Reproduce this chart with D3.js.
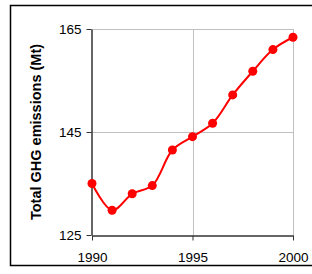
<!DOCTYPE html>
<html>
<head>
<meta charset="utf-8">
<script src="https://cdn.jsdelivr.net/npm/d3@7"></script>
<style>
body { margin: 0; background: #fff; }
svg { display: block; font-family: "Liberation Sans", Arial, sans-serif; }
</style>
</head>
<body>
<svg id="chart" width="312" height="274"></svg>
<script>
var years = [1990, 1991, 1992, 1993, 1994, 1995, 1996, 1997, 1998, 1999, 2000];
var emissions = [135.0, 129.8, 133.0, 134.6, 141.5, 144.1, 146.7, 152.2, 156.8, 161.0, 163.4];
var xTicks = [1990, 1995, 2000];
var yTicks = [125, 145, 165];

var svg = d3.select('#chart');

// outer frame
svg.append('rect')
    .attr('x', 10.5).attr('y', 5.5)
    .attr('width', 305).attr('height', 260)
    .attr('fill', 'none')
    .attr('stroke', '#000')
    .attr('stroke-width', 1.5);

var x = d3.scaleLinear().domain([1990, 2000]).range([92, 293]);
var y = d3.scaleLinear().domain([125, 165]).range([235, 29]);

var g = svg.append('g');

// gridlines
g.selectAll('line.vgrid').data(xTicks.slice(1)).enter().append('line')
    .attr('x1', function (d) { return Math.round(x(d)) + 0.5; })
    .attr('x2', function (d) { return Math.round(x(d)) + 0.5; })
    .attr('y1', y(165)).attr('y2', y(125))
    .attr('stroke', '#c0c0c0');
g.selectAll('line.hgrid').data(yTicks.slice(1)).enter().append('line')
    .attr('y1', function (d) { return Math.round(y(d)) + 0.5; })
    .attr('y2', function (d) { return Math.round(y(d)) + 0.5; })
    .attr('x1', x(1990)).attr('x2', x(2000))
    .attr('stroke', '#c0c0c0');

// axes
var xAxis = d3.axisBottom(x).tickValues(xTicks).tickFormat(d3.format('d')).tickSizeInner(5).tickSizeOuter(0).tickPadding(12);
var yAxis = d3.axisLeft(y).tickValues(yTicks).tickSizeInner(5).tickSizeOuter(0).tickPadding(5);

var gx = g.append('g').attr('transform', 'translate(0,' + (Math.round(y(125)) + 0.5) + ')').call(xAxis);
var gy = g.append('g').attr('transform', 'translate(' + (Math.round(x(1990)) - 0.5) + ',0)').call(yAxis);

[gx, gy].forEach(function (a) {
    a.select('.domain').attr('stroke', '#333').attr('stroke-width', 1.5);
    a.selectAll('.tick line').attr('stroke', '#333');
    a.selectAll('.tick text').attr('font-size', 13.5).attr('fill', '#000')
        .attr('font-family', '"Liberation Sans", Arial, sans-serif');
});

// y title
svg.append('text')
    .attr('transform', 'translate(41,' + (y(145)) + ') rotate(-90)')
    .attr('text-anchor', 'middle')
    .attr('font-size', 14.5)
    .attr('font-weight', 'bold')
    .text('Total GHG emissions (Mt)');

// line + markers
var line = d3.line()
    .x(function (d, i) { return x(years[i]); })
    .y(function (d) { return y(d); })
    .curve(d3.curveCatmullRom);

g.append('path')
    .datum(emissions)
    .attr('d', line)
    .attr('fill', 'none')
    .attr('stroke', '#ff0000')
    .attr('stroke-width', 2);

g.selectAll('circle').data(emissions).enter().append('circle')
    .attr('cx', function (d, i) { return x(years[i]); })
    .attr('cy', function (d) { return y(d); })
    .attr('r', 4.5)
    .attr('fill', '#ff0000');
</script>
</body>
</html>
